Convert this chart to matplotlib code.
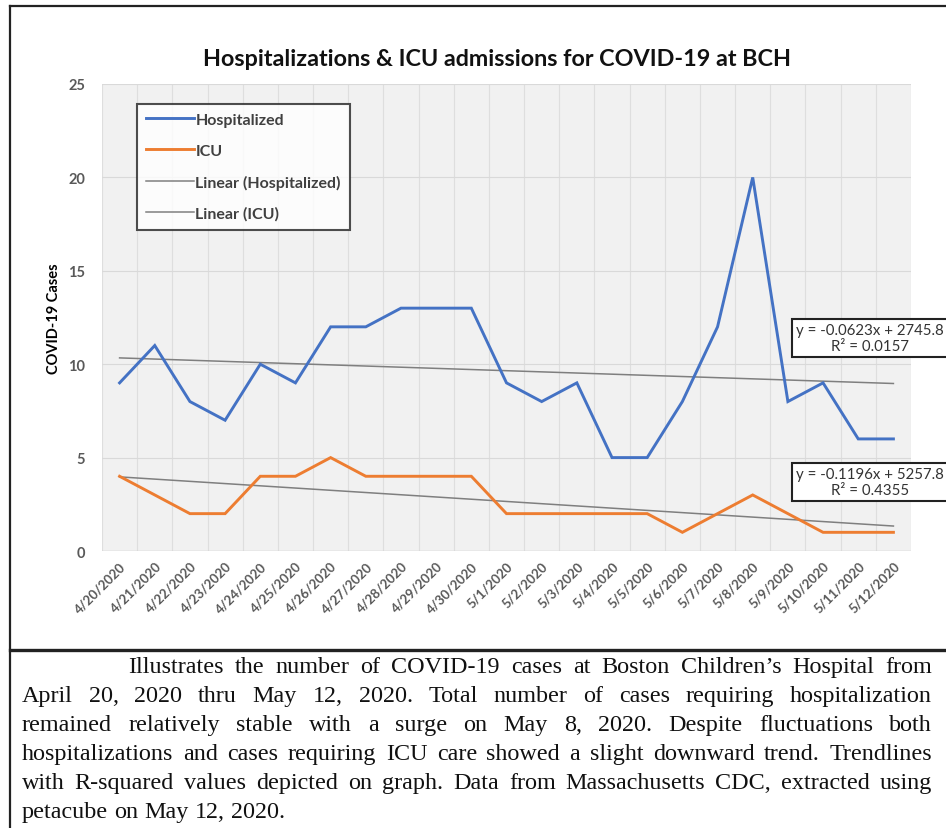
import numpy as np
import matplotlib.pyplot as plt
from matplotlib.lines import Line2D

# daily counts, Boston Children's Hospital
dates = ["4/20/2020", "4/21/2020", "4/22/2020", "4/23/2020", "4/24/2020",
         "4/25/2020", "4/26/2020", "4/27/2020", "4/28/2020", "4/29/2020",
         "4/30/2020", "5/1/2020", "5/2/2020", "5/3/2020", "5/4/2020",
         "5/5/2020", "5/6/2020", "5/7/2020", "5/8/2020", "5/9/2020",
         "5/10/2020", "5/11/2020", "5/12/2020"]
hospitalized = [9, 11, 8, 7, 10, 9, 12, 12, 13, 13, 13, 9, 8, 9, 5, 5, 8, 12, 20, 8, 9, 6, 6]
icu = [4, 3, 2, 2, 4, 4, 5, 4, 4, 4, 4, 2, 2, 2, 2, 2, 1, 2, 3, 2, 1, 1, 1]

# excel trendline results (slope per day, intercept on serial dates, R^2)
hosp_fit = (-0.0623, 2745.8, 0.0157)
icu_fit = (-0.1196, 5257.8, 0.4355)

caption_lines = [
    "Illustrates the number of COVID-19 cases at Boston Children\u2019s Hospital from",
    "April 20, 2020 thru May 12, 2020. Total number of cases requiring hospitalization",
    "remained relatively stable with a surge on May 8, 2020. Despite fluctuations both",
    "hospitalizations and cases requiring ICU care showed a slight downward trend. Trendlines",
    "with R-squared values depicted on graph. Data from Massachusetts CDC, extracted using",
    "petacube on May 12, 2020.",
]

plt.rcParams["font.family"] = ["Lato", "DejaVu Sans"]

W, H = 946, 829
fig = plt.figure(figsize=(W / 100, H / 100), dpi=100)

BLUE = "#4472C4"
ORANGE = "#ED7D31"
TREND = "#7F7F7F"
TICK = "#595959"

ax = fig.add_axes([102 / W, 1 - 552 / H, (911 - 102) / W, (552 - 85) / H])
ax.set_facecolor("#f1f1f1")

x = np.arange(len(dates))


def trend(values, slope):
    # same slope as the excel label, passing through the data centroid
    v = np.asarray(values, float)
    return v.mean() + slope * (x - x.mean())


ax.plot(x, hospitalized, color=BLUE, lw=2.1, solid_joinstyle="miter", zorder=4)
ax.plot(x, icu, color=ORANGE, lw=2.1, solid_joinstyle="miter", zorder=4)
ax.plot(x, trend(hospitalized, hosp_fit[0]), color=TREND, lw=1.1, zorder=3)
ax.plot(x, trend(icu, icu_fit[0]), color=TREND, lw=1.1, zorder=3)

ax.set_xlim(-0.5, len(dates) - 0.5)
ax.set_ylim(0, 25)
ax.set_yticks(range(0, 26, 5))
ax.set_xticks(x)
ax.set_xticklabels(dates, rotation=45, ha="right", rotation_mode="anchor",
                   fontsize=9.5, fontweight="bold", color=TICK)
ax.tick_params(axis="y", labelsize=10.5, colors=TICK, length=0, pad=12)
ax.tick_params(axis="x", length=0, pad=6)
for lbl in ax.get_yticklabels():
    lbl.set_fontweight("bold")

# gridlines: horizontal at major ticks, vertical between categories
ax.set_xticks(np.arange(-0.5, len(dates), 1), minor=True)
ax.grid(axis="y", which="major", color="#d9d9d9", lw=0.8)
ax.grid(axis="x", which="minor", color="#dedede", lw=0.8)
ax.tick_params(which="minor", length=0)
for s in ax.spines.values():
    s.set_visible(False)
ax.axhline(0, color="#d0d0d0", lw=1.0, zorder=2)

ax.set_ylabel("COVID-19 Cases", fontsize=10.5, fontweight="bold", labelpad=5)
fig.text(497 / W, 1 - 60 / H, "Hospitalizations & ICU admissions for COVID-19 at BCH",
         ha="center", va="center", fontsize=16.8, fontweight="bold", color="#111111")

handles = [Line2D([], [], color=BLUE, lw=2.1),
           Line2D([], [], color=ORANGE, lw=2.1),
           Line2D([], [], color=TREND, lw=1.1),
           Line2D([], [], color=TREND, lw=1.1)]
leg = ax.legend(handles, ["Hospitalized", "ICU", "Linear (Hospitalized)", "Linear (ICU)"],
                loc="upper left", bbox_to_anchor=(35 / 809, 1 - 20 / 467),
                fontsize=11.5, frameon=True, fancybox=False, handlelength=3.0,
                handletextpad=0.1, labelspacing=1.05, borderpad=0.55, borderaxespad=0,
                labelcolor="#404040")
leg.get_frame().set_edgecolor("#222222")
leg.get_frame().set_linewidth(1.5)
for t in leg.get_texts():
    t.set_fontweight("bold")


def eq_label(fit, ypix):
    slope, intercept, r2 = fit
    txt = f"y = {slope:.4f}x + {intercept:.1f}\nR\u00b2 = {r2:.4f}"
    fig.text(870 / W, 1 - ypix / H, txt, ha="center", va="center", fontsize=10.8,
             color="#333333", linespacing=1.15,
             bbox=dict(boxstyle="square,pad=0.3", fc="white", ec="#222222", lw=1.5))


eq_label(hosp_fit, 339)
eq_label(icu_fit, 483)

# outer frame and divider between chart and caption
frame = dict(color="#222222", lw=1.6, transform=fig.transFigure, clip_on=False)
fig.add_artist(Line2D([10 / W, 10 / W], [0, 1 - 7 / H], **frame))
fig.add_artist(Line2D([10 / W, 1], [1 - 7 / H, 1 - 7 / H], **frame))
fig.add_artist(Line2D([10 / W, 1], [1 - 651 / H, 1 - 651 / H], color="#222222", lw=2.4,
                      transform=fig.transFigure))

# justified caption paragraph
cap_font = dict(family="Liberation Serif", color="#111111")
renderer = fig.canvas.get_renderer()
left, right, first_indent = 22, 932, 128
y0, step = 668, 29


def word_width(w, size):
    t = fig.text(0, 0, w, fontsize=size, **cap_font)
    bb = t.get_window_extent(renderer)
    t.remove()
    return bb.width


# pick the size so the tightest line nearly fills the column
base = 12.0
natural = max(word_width(line, base) / ((right - (first_indent if i == 0 else left)) - 6)
              for i, line in enumerate(caption_lines[:-1]))
cap_size = 0.96 * base / natural

space_w = word_width("a a", cap_size) - 2 * word_width("a", cap_size)
for i, line in enumerate(caption_lines):
    words = line.split(" ")
    widths = [word_width(w, cap_size) for w in words]
    start = first_indent if i == 0 else left
    ypos = 1 - (y0 + i * step) / H
    if i == len(caption_lines) - 1:
        gap = space_w
    else:
        gap = (right - start - sum(widths)) / (len(words) - 1)
    xpos = start
    for w, ww in zip(words, widths):
        fig.text(xpos / W, ypos, w, ha="left", va="center", fontsize=cap_size, **cap_font)
        xpos += ww + gap

fig.savefig("out.png", dpi=100)
